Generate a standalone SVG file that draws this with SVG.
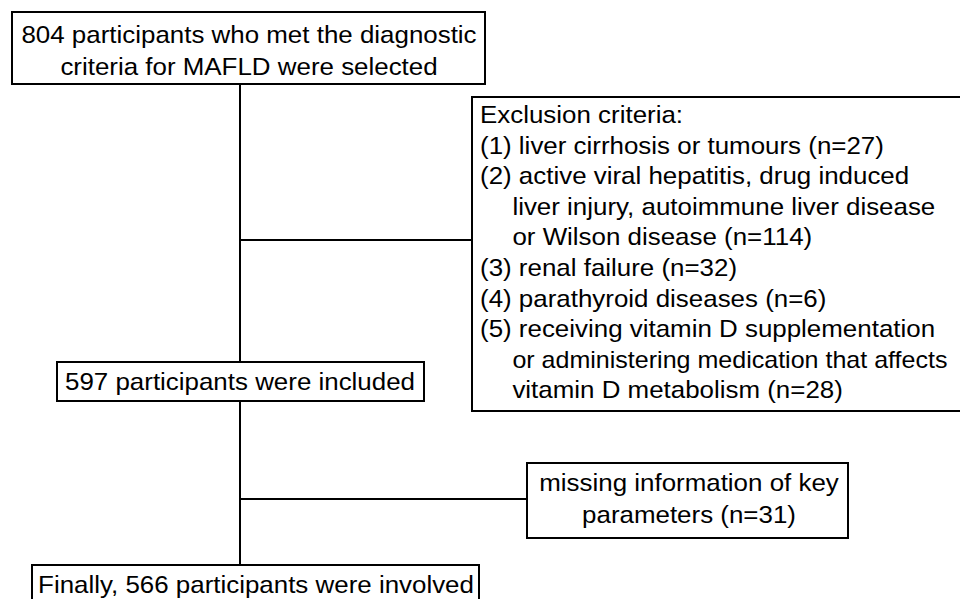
<svg xmlns="http://www.w3.org/2000/svg" width="960" height="599" viewBox="0 0 960 599">
<style>
.box{fill:#fff;stroke:#000;stroke-width:2}
.ln{stroke:#000;stroke-width:2;fill:none}
text{font-family:"Liberation Sans",Arial,sans-serif;font-size:24px;fill:#000}
.c{text-anchor:middle}
</style>
<rect width="960" height="599" fill="#fff"/>
<g id="connectors">
<line class="ln" x1="240" y1="84" x2="240" y2="363"/>
<line class="ln" x1="240" y1="240" x2="472" y2="240"/>
<line class="ln" x1="240" y1="401" x2="240" y2="565"/>
<line class="ln" x1="240" y1="499" x2="527" y2="499"/>
</g>
<g id="n1">
<rect class="box" x="12" y="12" width="473" height="72"/>
<g transform="translate(249 0) scale(1.08 1)">
<text class="c" x="0" y="43">804 participants who met the diagnostic</text>
<text class="c" x="0" y="75">criteria for MAFLD were selected</text>
</g>
</g>
<g id="n2">
<rect class="box" x="472" y="97" width="500" height="314"/>
<g transform="translate(480 0) scale(1.08 1)">
<text x="0" y="123">Exclusion criteria:</text>
<text x="0" y="153.6">(1) liver cirrhosis or tumours (n=27)</text>
<text x="0" y="184.2">(2) active viral hepatitis, drug induced</text>
<text x="30" y="214.8">liver injury, autoimmune liver disease</text>
<text x="30" y="245.4">or Wilson disease (n=114)</text>
<text x="0" y="276">(3) renal failure (n=32)</text>
<text x="0" y="306.6">(4) parathyroid diseases (n=6)</text>
<text x="0" y="337.2">(5) receiving vitamin D supplementation</text>
<text x="30" y="367.8" style="font-size:23.2px">or administering medication that affects</text>
<text x="30" y="398.4">vitamin D metabolism (n=28)</text>
</g>
</g>
<g id="n3">
<rect class="box" x="57" y="362" width="367" height="39"/>
<g transform="translate(240 0) scale(1.08 1)">
<text class="c" x="0" y="390">597 participants were included</text>
</g>
</g>
<g id="n4">
<rect class="box" x="527" y="463" width="321" height="75"/>
<g transform="translate(689 0) scale(1.08 1)">
<text class="c" x="0" y="491">missing information of key</text>
<text class="c" x="0" y="523">parameters (n=31)</text>
</g>
</g>
<g id="n5">
<rect class="box" x="32" y="565" width="447" height="50"/>
<g transform="translate(256 0) scale(1.08 1)">
<text class="c" x="0" y="593">Finally, 566 participants were involved</text>
</g>
</g>
</svg>
